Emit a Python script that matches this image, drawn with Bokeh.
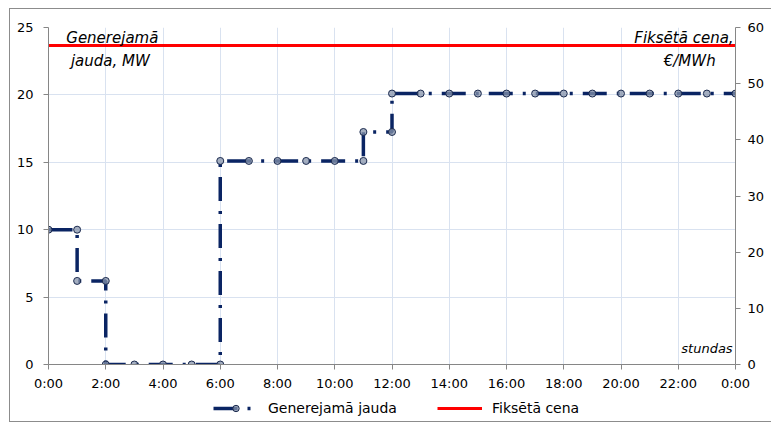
from bokeh.plotting import figure
from bokeh.layouts import column
from bokeh.models import Range1d, LinearAxis, FixedTicker, Legend, LegendItem, Label
from bokeh.embed import file_html
from bokeh.resources import INLINE

# Generated power (MW) as a step profile over the day, hours 0..24
hours = [0, 1, 1, 2, 2, 3, 4, 5, 6, 6, 7, 8, 9, 10, 11, 11, 12, 12,
         13, 14, 15, 16, 17, 18, 19, 20, 21, 22, 23, 24]
power = [10.0, 10.0, 6.2, 6.2, 0.0, 0.0, 0.0, 0.0, 0.0, 15.1, 15.1, 15.1, 15.1, 15.1,
         15.1, 17.25, 17.25, 20.1,
         20.1, 20.1, 20.1, 20.1, 20.1, 20.1, 20.1, 20.1, 20.1, 20.1, 20.1, 20.1]

# Fixed price (EUR/MWh), right axis
price_hours = [0, 24]
price = [56.8, 56.8]

x_ticks = [0, 2, 4, 6, 8, 10, 12, 14, 16, 18, 20, 22, 24]
x_tick_labels = ["0:00", "2:00", "4:00", "6:00", "8:00", "10:00", "12:00",
                 "14:00", "16:00", "18:00", "20:00", "22:00", "0:00"]
left_ticks = [0, 5, 10, 15, 20, 25]
right_ticks = [0, 10, 20, 30, 40, 50, 60]

series_names = ["Generejamā jauda", "Fiksētā cena"]

FONT = "DejaVu Sans"
AXIS_GREY = "#868686"
GRID_BLUE = "#d9e2f0"
NAVY = "#0a2463"
RED = "#ff0000"
STEP_DASH = "24 10 3 10"
MARKER = dict(marker="circle", size=7, fill_color="#8593ab", fill_alpha=0.75,
              line_color="#1b2a4e", line_width=1)

W = 761

p = figure(width=W, height=385,
           x_range=Range1d(0, 24), y_range=Range1d(0, 25),
           output_backend="svg", toolbar_location=None,
           min_border_left=38, min_border_right=36,
           min_border_top=18, min_border_bottom=30)
p.outline_line_color = None
p.background_fill_color = "white"
p.border_fill_color = "white"

p.extra_y_ranges = {"price": Range1d(0, 60)}

# Axes
p.xaxis.ticker = FixedTicker(ticks=x_ticks)
p.xaxis.major_label_overrides = dict(zip(x_ticks, x_tick_labels))
p.yaxis.ticker = FixedTicker(ticks=left_ticks)

right_axis = LinearAxis(y_range_name="price", ticker=FixedTicker(ticks=right_ticks))
p.add_layout(right_axis, "right")

for ax in [p.xaxis[0], p.yaxis[0], right_axis]:
    ax.axis_line_color = AXIS_GREY
    ax.major_tick_line_color = AXIS_GREY
    ax.minor_tick_line_color = None
    ax.major_tick_out = 5
    ax.major_tick_in = 0
    ax.major_label_text_font = FONT
    ax.major_label_text_font_size = "13px"
    ax.major_label_text_color = "black"
p.xaxis.major_label_standoff = 6
p.yaxis.major_label_standoff = 10
right_axis.major_label_standoff = 7

# Grid
p.xgrid.ticker = FixedTicker(ticks=x_ticks)
p.xgrid.grid_line_color = GRID_BLUE
p.ygrid.grid_line_color = GRID_BLUE

# Series
p.line(price_hours, price, y_range_name="price", line_color=RED, line_width=3)
p.line(hours, power, line_color=NAVY, line_width=3.5, line_dash=STEP_DASH)
p.scatter(hours, power, **MARKER)

# Axis titles inside the plot area
title_style = dict(text_font=FONT, text_font_size="15px",
                   text_font_style="italic", text_color="black",
                   text_align="center", text_baseline="middle")
p.add_layout(Label(x=2.23, y=24.2, text="Generejamā", **title_style))
p.add_layout(Label(x=2.16, y=22.55, text="jauda, MW", **title_style))
p.add_layout(Label(x=22.2, y=24.2, text="Fiksētā cena,", **title_style))
p.add_layout(Label(x=22.4, y=22.5, text="€/MWh", **title_style))
p.add_layout(Label(x=23.9, y=1.2, text="stundas", text_font=FONT,
                   text_font_size="13px", text_font_style="italic",
                   text_color="black",
                   text_align="right", text_baseline="middle"))

# Legend strip underneath the chart; its key glyphs sit outside the visible range
lf = figure(width=W, height=27, output_backend="svg", toolbar_location=None,
            x_axis_location=None, y_axis_location=None,
            min_border=0, x_range=Range1d(0, 1), y_range=Range1d(0, 1))
lf.grid.visible = False
lf.outline_line_color = None
lf.border_fill_color = "white"
off = [-5, -4]
step_key = lf.line(off, off, line_color=NAVY, line_width=3.5, line_dash=STEP_DASH)
dot_key = lf.scatter(off, off, **MARKER)
red_key = lf.line(off, off, line_color=RED, line_width=3)

legend = Legend(items=[LegendItem(label=series_names[0], renderers=[step_key, dot_key]),
                       LegendItem(label=series_names[1], renderers=[red_key])],
                orientation="horizontal", location=(165, 5),
                border_line_color=None, background_fill_alpha=0,
                label_text_font=FONT, label_text_font_size="14px",
                label_text_color="black",
                glyph_width=45, glyph_height=16, label_standoff=10,
                spacing=40, padding=0, margin=0)
lf.add_layout(legend)

layout = column(p, lf, spacing=0, margin=(8, 0, 0, 9),
                styles={"border-left": "1px solid #8c8c8c",
                        "border-top": "1px solid #8c8c8c",
                        "border-bottom": "1px solid #8c8c8c",
                        "border-right": "0px none transparent"})

open("out.html", "w").write(file_html(layout, INLINE))
